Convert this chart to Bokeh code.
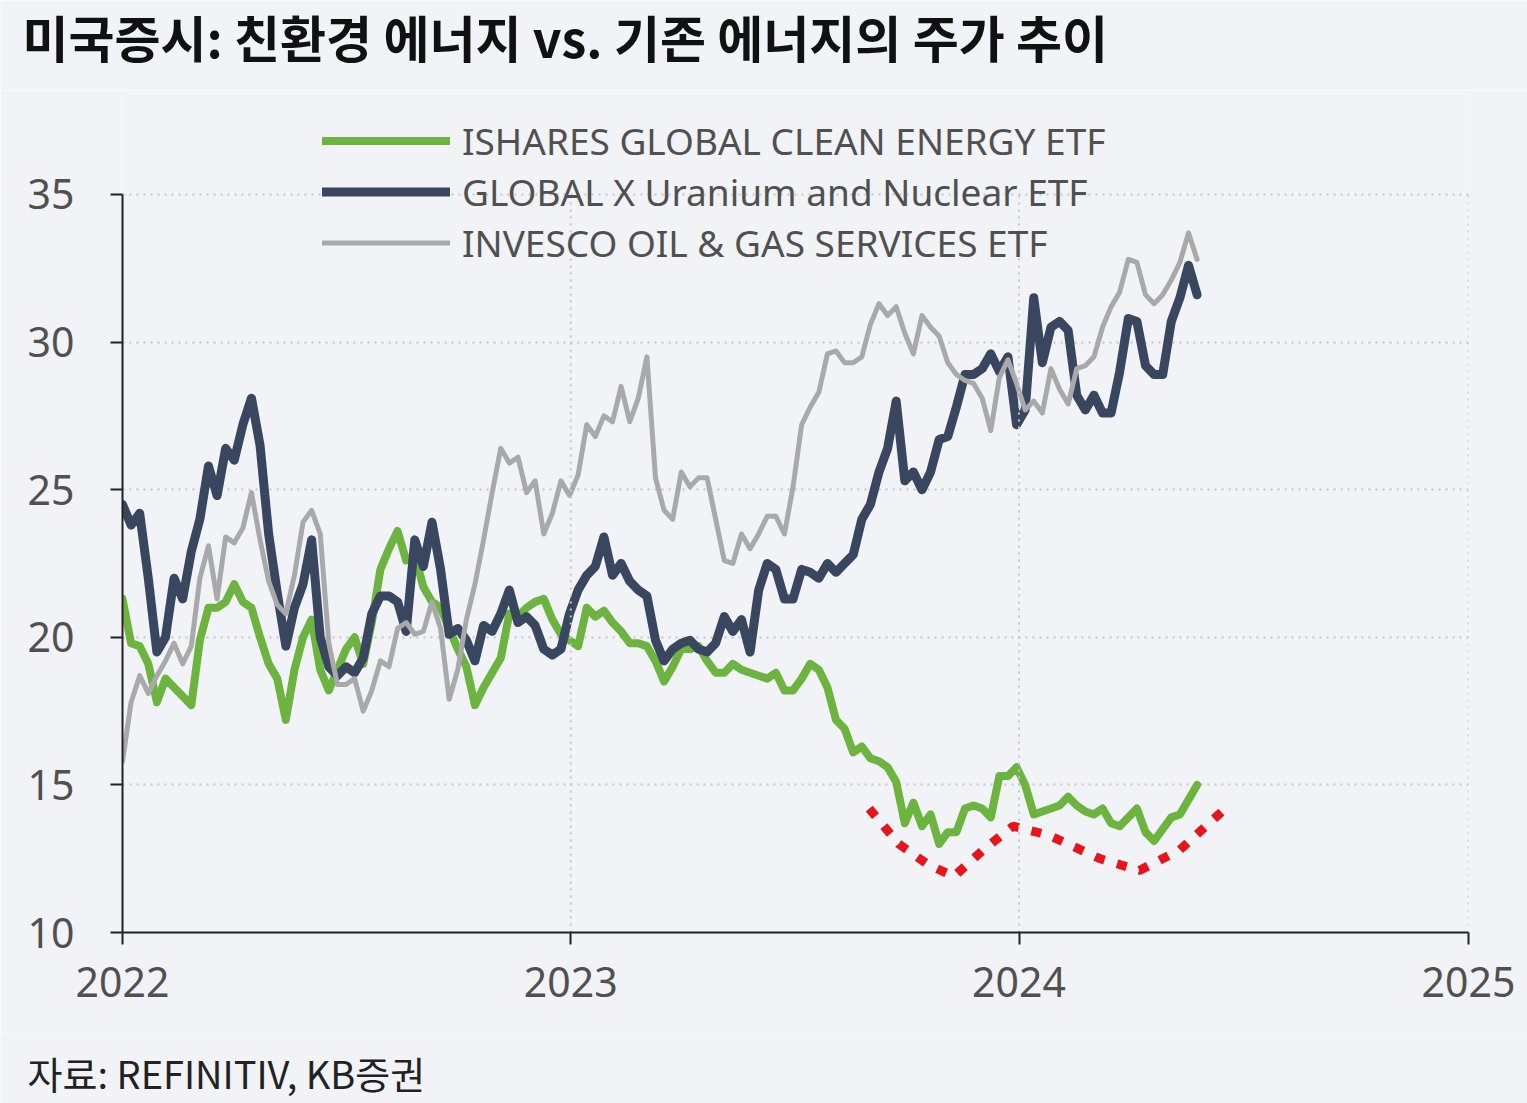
import pandas as pd
from bokeh.plotting import figure
from bokeh.layouts import column
from bokeh.models import (Legend, LegendItem, Label, FixedTicker,
                          DatetimeTickFormatter)
from bokeh.embed import file_html
from bokeh.resources import INLINE

# weekly closes, Jan 2022 .. mid-May 2024
dates = pd.date_range("2022-01-01", periods=126, freq="7D")

clean_energy = [
    21.3, 19.8, 19.7, 19.1, 17.8, 18.6, 18.3, 18.0, 17.7, 19.9,
    21.0, 21.0, 21.2, 21.8, 21.2, 21.0, 20.0, 19.1, 18.6, 17.2,
    18.9, 20.0, 20.6, 18.9, 18.2, 18.9, 19.6, 20.0, 19.1, 20.5,
    22.3, 23.0, 23.6, 22.6, 22.8, 21.7, 21.2, 21.0, 20.3, 19.6,
    19.0, 17.7, 18.3, 18.8, 19.3, 20.8, 20.7, 21.0, 21.2, 21.3,
    20.6, 20.1, 19.9, 19.7, 21.0, 20.7, 20.9, 20.5, 20.2, 19.8,
    19.8, 19.7, 19.2, 18.5, 19.0, 19.6, 19.6, 19.7, 19.2, 18.8,
    18.8, 19.1, 18.9, 18.8, 18.7, 18.6, 18.8, 18.2, 18.2, 18.6,
    19.1, 18.9, 18.3, 17.2, 16.9, 16.1, 16.3, 15.9, 15.8, 15.6,
    15.1, 13.7, 14.4, 13.6, 14.0, 13.0, 13.4, 13.4, 14.2, 14.3,
    14.2, 13.9, 15.3, 15.3, 15.6, 15.0, 14.0, 14.1, 14.2, 14.3,
    14.6, 14.3, 14.1, 14.0, 14.2, 13.7, 13.6, 13.9, 14.2, 13.4,
    13.1, 13.5, 13.9, 14.0, 14.5, 15.0,
]

uranium_nuclear = [
    24.5, 23.8, 24.2, 22.0, 19.5, 20.0, 22.0, 21.3, 22.9, 24.0,
    25.8, 24.8, 26.4, 26.0, 27.2, 28.1, 26.5, 23.5, 21.5, 19.7,
    21.0, 21.8, 23.3, 20.0, 19.0, 18.7, 19.0, 18.8, 19.3, 20.8,
    21.4, 21.4, 21.2, 20.2, 23.3, 22.4, 23.9, 22.3, 20.1, 20.3,
    19.9, 19.2, 20.4, 20.2, 20.8, 21.6, 20.5, 20.7, 20.4, 19.6,
    19.4, 19.6, 20.8, 21.6, 22.1, 22.4, 23.4, 22.1, 22.5, 21.9,
    21.6, 21.4, 19.9, 19.2, 19.6, 19.8, 19.9, 19.6, 19.5, 19.8,
    20.7, 20.2, 20.6, 19.5, 21.6, 22.5, 22.3, 21.3, 21.3, 22.3,
    22.2, 22.0, 22.5, 22.2, 22.5, 22.8, 24.0, 24.5, 25.6, 26.4,
    28.0, 25.3, 25.6, 25.0, 25.6, 26.7, 26.8, 27.8, 28.9, 28.9,
    29.1, 29.6, 29.0, 29.5, 27.2, 27.7, 31.5, 29.3, 30.5, 30.7,
    30.4, 28.2, 27.7, 28.2, 27.6, 27.6, 29.0, 30.8, 30.7, 29.2,
    28.9, 28.9, 30.7, 31.5, 32.6, 31.6,
]

oil_gas_services = [
    15.8, 17.8, 18.7, 18.1, 18.7, 19.2, 19.8, 19.1, 19.7, 22.0,
    23.1, 21.3, 23.4, 23.2, 23.7, 24.9, 23.3, 21.9, 21.1, 20.8,
    22.1, 23.9, 24.3, 23.5, 19.8, 18.4, 18.4, 18.6, 17.5, 18.2,
    19.2, 19.0, 20.3, 20.5, 20.1, 20.2, 21.2, 20.3, 17.9, 18.9,
    20.6, 21.8, 23.3, 24.9, 26.4, 25.9, 26.1, 24.9, 25.3, 23.5,
    24.2, 25.3, 24.8, 25.5, 27.2, 26.8, 27.5, 27.3, 28.5, 27.3,
    28.1, 29.5, 25.4, 24.3, 24.0, 25.6, 25.1, 25.4, 25.4, 24.0,
    22.6, 22.5, 23.5, 23.0, 23.5, 24.1, 24.1, 23.5, 25.1, 27.2,
    27.8, 28.3, 29.6, 29.7, 29.3, 29.3, 29.5, 30.6, 31.3, 30.9,
    31.2, 30.3, 29.6, 30.9, 30.5, 30.2, 29.3, 28.9, 28.7, 28.6,
    28.1, 27.0, 28.8, 29.4, 28.6, 27.7, 28.0, 27.6, 29.1, 28.4,
    27.9, 29.1, 29.2, 29.5, 30.5, 31.2, 31.7, 32.8, 32.7, 31.6,
    31.3, 31.6, 32.1, 32.7, 33.7, 32.8,
]

# hand-drawn red dotted "bottoming" mark under the clean energy line
mark_dates = pd.to_datetime([
    "2023-09-01", "2023-09-25", "2023-10-19", "2023-11-09", "2023-12-03",
    "2023-12-27", "2024-01-25", "2024-03-07", "2024-04-08", "2024-05-11",
    "2024-06-17",
])
mark_values = [14.2, 13.0, 12.3, 11.9, 12.8, 13.6, 13.3, 12.5, 12.1, 12.8, 14.2]

labels = [
    "ISHARES GLOBAL CLEAN ENERGY ETF",
    "GLOBAL X Uranium and Nuclear ETF",
    "INVESCO OIL & GAS SERVICES ETF",
]
year_ticks = pd.to_datetime(["2022-01-01", "2023-01-01", "2024-01-01", "2025-01-01"])
y_ticks = [10, 15, 20, 25, 30, 35]

title_text = "미국증시: 친환경 에너지 vs. 기존 에너지의 주가 추이"
source_text = "자료: REFINITIV, KB증권"

BG = "#f1f3f6"
TXT = "#505050"
GRID = "#c4c6c9"
NUM_FONT = "Noto Sans"
KR_FONT = "Noto Sans CJK KR"
W = 1527


def text_strip(height, text, x, y, size, style, color):
    # a bare strip (no axes) that only carries one line of text;
    # frame_align=False keeps its frame from snapping to the chart's frame
    f = figure(width=W, height=height, x_range=(0, 1), y_range=(0, 1),
               x_axis_location=None, y_axis_location=None,
               output_backend="svg", toolbar_location=None, tools="",
               min_border=0, outline_line_color=None, frame_align=False)
    f.grid.visible = False
    f.background_fill_color = BG
    f.border_fill_color = BG
    f.add_layout(Label(x=x, y=y, x_units="screen", y_units="screen", text=text,
                       text_font=KR_FONT, text_font_style=style,
                       text_font_size=size, text_color=color,
                       text_baseline="top"))
    return f


head = text_strip(90, title_text, 22, 91, "50px", "bold", "#111111")

# frame runs above 35 so the legend (which sits over the top gridline) is not clipped
p = figure(width=W, height=943, x_axis_type="datetime",
           x_range=(year_ticks[0], year_ticks[-1]), y_range=(10, 38.42),
           output_backend="svg", toolbar_location=None, tools="",
           min_border_left=122, min_border_right=59,
           min_border_top=3, min_border_bottom=101, frame_align=False)
p.background_fill_color = BG
p.border_fill_color = BG
p.outline_line_color = None

r_green = p.line(dates, clean_energy, line_color="#6db33f", line_width=8,
                 line_join="round", line_cap="round")
r_navy = p.line(dates, uranium_nuclear, line_color="#38475f", line_width=9,
                line_join="round", line_cap="round")
r_gray = p.line(dates, oil_gas_services, line_color="#a9a9ab", line_width=5,
                line_join="round", line_cap="round")
p.line(mark_dates, mark_values, line_color="#e8141c", line_width=9,
       line_dash="10 13")

# axes
p.xaxis.ticker = FixedTicker(ticks=[d.value // 10**6 for d in year_ticks])
p.xaxis.formatter = DatetimeTickFormatter(years="%Y", months="%Y", days="%Y",
                                          hours="%Y", minutes="%Y", seconds="%Y")
p.yaxis.ticker = FixedTicker(ticks=y_ticks)
p.yaxis.bounds = (10, 35)
for ax in (p.xaxis, p.yaxis):
    ax.axis_line_color = "#222222"
    ax.axis_line_width = 2
    ax.major_tick_line_color = "#222222"
    ax.major_tick_line_width = 2
    ax.major_tick_in = 0
    ax.major_tick_out = 12
    ax.minor_tick_line_color = None
    ax.major_label_text_font = NUM_FONT
    ax.major_label_text_font_size = "41px"
    ax.major_label_text_color = TXT
p.yaxis.major_label_standoff = 36
p.xaxis.major_label_standoff = 22

p.ygrid.grid_line_color = GRID
p.ygrid.grid_line_width = 2
p.ygrid.grid_line_dash = "2 5"
p.xgrid.visible = False
# vertical year gridlines only between 10 and 35
p.segment(x0=year_ticks[1:], y0=y_ticks[0], x1=year_ticks[1:], y1=y_ticks[-1],
          line_color=GRID, line_width=2, line_dash="2 5")

legend = Legend(items=[LegendItem(label=labels[0], renderers=[r_green]),
                       LegendItem(label=labels[1], renderers=[r_navy]),
                       LegendItem(label=labels[2], renderers=[r_gray])],
                location=(200, 664), glyph_width=128, glyph_height=49,
                label_height=49, spacing=0, padding=0, margin=0,
                label_standoff=12, label_text_font=NUM_FONT,
                label_text_font_size="37px", label_text_color=TXT,
                background_fill_alpha=0, border_line_color=None)
p.add_layout(legend, "center")

foot = text_strip(70, source_text, 27, 59, "38px", "normal", "#222222")

open("out.html", "w").write(file_html(column(head, p, foot, spacing=0), INLINE))
